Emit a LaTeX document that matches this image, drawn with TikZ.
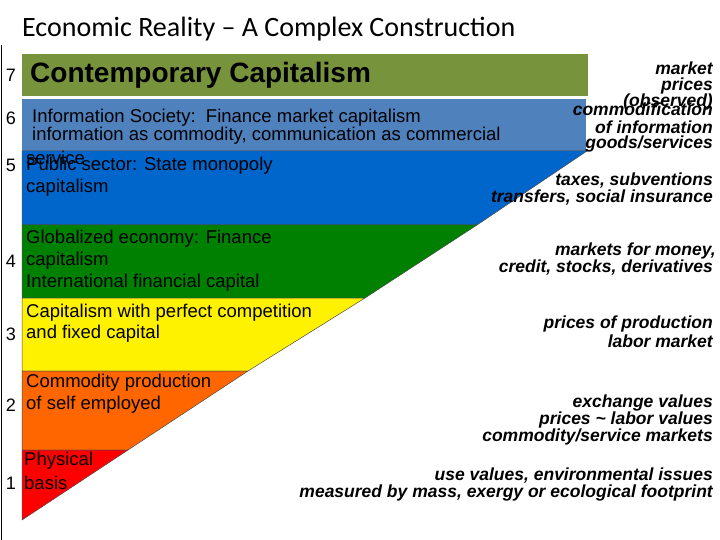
\documentclass[tikz,border=0pt]{standalone}
\usepackage{fontspec}
\setmainfont{Liberation Sans}
\newfontfamily\titlefont{Carlito}
\begin{document}
\begin{tikzpicture}[x=1pt,y=-1pt,
  band/.style={draw=black!70,line width=0.5pt},
  lt/.style={anchor=west,inner sep=0pt,font=\fontsize{18.5}{20}\selectfont},
  num/.style={anchor=center,inner sep=0pt,font=\fontsize{18}{20}\selectfont},
  rt/.style={anchor=east,inner sep=0pt,font=\fontsize{17.5}{19}\selectfont\bfseries\itshape}]
\useasboundingbox (0,0) rectangle (720,540);
\definecolor{olive}{HTML}{77933C}
\definecolor{steel}{HTML}{4F81BD}
\definecolor{bblue}{HTML}{0066CC}
\definecolor{ggreen}{HTML}{008000}
\definecolor{oorange}{HTML}{FF6600}
\draw[line width=0.6pt] (1,45) coordinate (f1) -- (1,540) coordinate (f2);
\node[anchor=west,inner sep=0pt,font=\titlefont\fontsize{28}{30}\selectfont] (title) at (22,29) {Economic Reality – A Complex Construction};
% bands
\fill[olive] (22,54) rectangle (588,96);
\fill[steel] (22,99) rectangle (586,151);
\fill[bblue,band] (22,151) -- (587,151) -- (477,225) -- (22,225) -- cycle;
\fill[ggreen,band] (22,225) -- (477,225) -- (365,298) -- (22,298) -- cycle;
\fill[yellow,band] (22,298) -- (365,298) -- (248,371) -- (22,371) -- cycle;
\fill[oorange,band] (22,371) -- (248,371) -- (128,450) -- (22,450) -- cycle;
\fill[red,band] (22,450) -- (128,450) -- (22,520) -- cycle;
% numbers
\node[num] (n7) at (11,75) {7};
\node[num] (n6) at (11,118) {6};
\node[num] (n5) at (11,165) {5};
\node[num] (n4) at (11,261) {4};
\node[num] (n3) at (11,334) {3};
\node[num] (n2) at (11,405) {2};
\node[num] (n1) at (11,483) {1};
% band texts
\node[lt,font=\fontsize{28}{30}\selectfont\bfseries] (t7) at (30,75) {Contemporary Capitalism};
\node[lt] (t6a) at (32,118) {Information Society:\ \ Finance market capitalism};
\node[lt] (t6b) at (32,136) {information as commodity, communication as commercial};
\node[lt] (t6c) at (26,158) {service};
\node[lt] (t5a) at (26,166) {Public sector: State monopoly};
\node[lt] (t5b) at (26,188) {capitalism};
\node[lt] (t4a) at (26,239) {Globalized economy: Finance};
\node[lt] (t4b) at (26,261) {capitalism};
\node[lt] (t4c) at (26,283) {International financial capital};
\node[lt] (t3a) at (26,313) {Capitalism with perfect competition};
\node[lt] (t3b) at (26,334) {and fixed capital};
\node[lt] (t2a) at (26,383) {Commodity production};
\node[lt] (t2b) at (26,405) {of self employed};
\node[lt] (t1a) at (24,461) {Physical};
\node[lt] (t1b) at (24,483) {basis};
% right labels
\node[rt] (r1) at (713,68) {market};
\node[rt] (r2) at (713,86) {prices};
\node[rt] (r3) at (713,102) {(observed)};
\node[rt] (r4) at (713,109) {commodification};
\node[rt] (r5) at (713,127) {of information};
\node[rt] (r6) at (713,144) {goods/services};
\node[rt] (r7) at (713,181) {taxes, subventions};
\node[rt] (r8) at (713,198) {transfers, social insurance};
\node[rt] (r9) at (716,251) {markets for money,};
\node[rt] (r10) at (713,268) {credit, stocks, derivatives};
\node[rt] (r11) at (713,324) {prices of production};
\node[rt] (r12) at (713,341) {labor market};
\node[rt] (r13) at (713,403) {exchange values};
\node[rt] (r14) at (713,420) {prices \textasciitilde\ labor values};
\node[rt] (r15) at (713,437) {commodity/service markets};
\node[rt] (r16) at (713,476) {use values, environmental issues};
\node[rt] (r17) at (713,493) {measured by mass, exergy or ecological footprint};
\end{tikzpicture}
\end{document}
